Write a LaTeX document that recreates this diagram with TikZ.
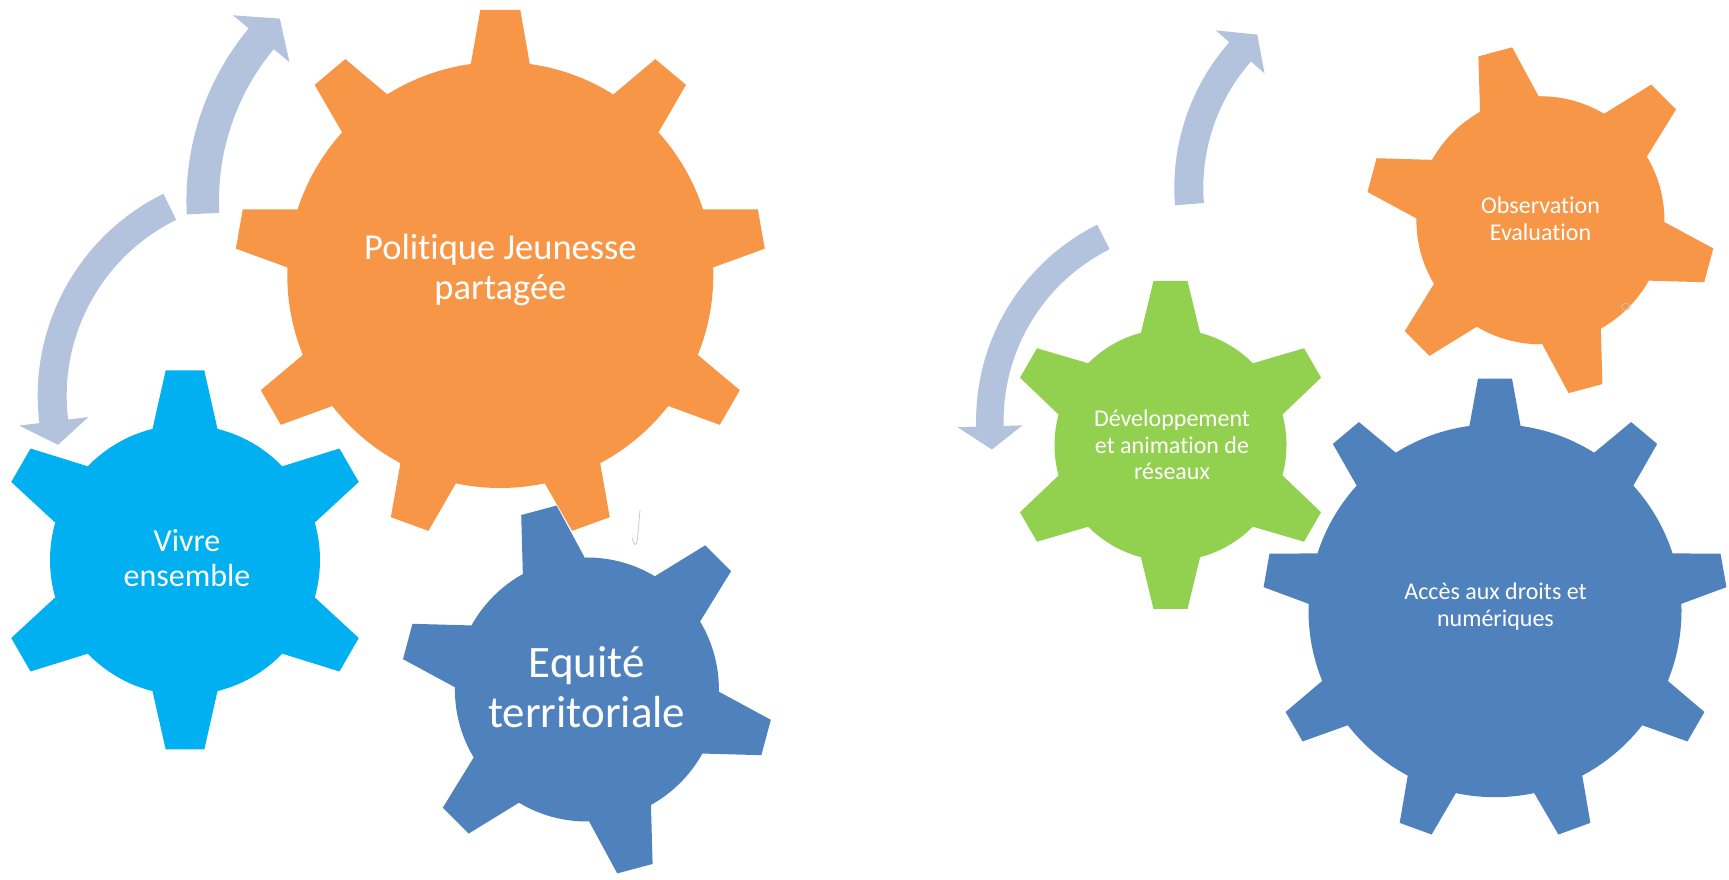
\documentclass[tikz,border=0pt]{standalone}
\usepackage{fontspec}
\setmainfont{Carlito}[Ligatures=NoCommon]

\definecolor{gearorange}{HTML}{F79646}
\definecolor{gearcyan}{HTML}{00B0F0}
\definecolor{gearblue}{HTML}{4F81BD}
\definecolor{geargreen}{HTML}{92D050}
\definecolor{arrowblue}{HTML}{B3C3DE}
\definecolor{hookgray}{HTML}{C5CCDA}

% centre, body radius, tip radius, base half width, tip half width, tooth angles, colour
\newcommand{\drawgear}[7]{%
  \fill[#7] #1 circle[radius=#2];
  \pgfmathsetmacro{\gearbase}{#2*sqrt(1-(#4/#2)^2)}
  \foreach \a in {#6} {
    \fill[#7, shift={#1}, rotate=\a]
      (0,0) -- (\gearbase,-#4) -- (#3,-#5) -- (#3,#5) -- (\gearbase,#4) -- cycle;
  }
}

\begin{document}
\begin{tikzpicture}[x=1pt, y=1pt,
    geartext/.style={text=white, align=center, anchor=base, inner sep=0pt},
    cyclearrow/.style={fill=arrowblue},
  ]
        \fill[white] (0,0) rectangle (1729,880);
        \useasboundingbox (0,0) rectangle (1729,880);

        % ------------------------------------------------------------------------
        % Left
        \fill[cyclearrow, shift={(456.4,679.2)}]
          (182.9:269.95) arc[start angle=182.9, end angle=140.3, radius=269.95]
          -- (140.3:290.4) -- (134.1:253.7) -- (140.3:217.0) -- (140.3:237.45)
          arc[start angle=140.3, end angle=182.9, radius=237.45] -- cycle;
        \fill[cyclearrow, shift={(262.7,484.3)}]
          (116.2:225) arc[start angle=116.2, end angle=187.0, radius=225]
          -- (187.0:245.3) -- (193.5:210.5) -- (187.0:175.7) -- (187.0:196)
          arc[start angle=187.0, end angle=116.2, radius=196] -- cycle;

        \drawgear{(500.3,605)}{213}{265}{29.5}{20}{90,130,...,410}{gearorange}
        \drawgear{(185,320)}{135}{189.5}{32.5}{19.3}{90,150,...,390}{gearcyan}
        \drawgear{(586.9,190.5)}{132}{185.5}{32}{18.3}{105,165,...,405}{gearblue}

        \draw[hookgray, line width=0.8]
          (640,370) .. controls (638.5,352) .. (637.5,341)
          .. controls (636.5,333) and (634,334) .. (632.3,341.7);

        % base = last line
        \node[geartext, font=\fontsize{36.5}{40}\selectfont] at (500.4, 580) (pol)
          {Politique Jeunesse\\partagée};
        \node[geartext, font=\fontsize{32}{35}\selectfont] at (187, 293) (vivre)
          {Vivre\\ensemble};
        \node[geartext, font=\fontsize{45}{50}\selectfont] at (586.7, 152.3) (equite)
          {Equité\\territoriale};

        % ------------------------------------------------------------------------
        % Right
        \fill[cyclearrow, shift={(1394.2,692.3)}]
          (184.6:219.9) arc[start angle=184.6, end angle=138.6, radius=219.9]
          -- (138.6:237.9) -- (131.8:205.4) -- (138.6:172.9) -- (138.6:190.9)
          arc[start angle=138.6, end angle=184.6, radius=190.9] -- cycle;
        \fill[cyclearrow, shift={(1195.1,459.4)}]
          (116.55:219) arc[start angle=116.55, end angle=181.6, radius=219]
          -- (181.6:237.65) -- (188.1:205.25) -- (181.6:172.85) -- (181.6:191.5)
          arc[start angle=181.6, end angle=116.55, radius=191.5] -- cycle;

        \drawgear{(1170.5,435)}{116}{164}{29.6}{17}{90,150,...,390}{geargreen}
        \drawgear{(1540.4,659.75)}{124}{174.3}{30.3}{17.5}{105,165,...,405}{gearorange}
        \drawgear{(1495,269.3)}{186.5}{232}{25.6}{17}{90,130,...,410}{gearblue}

        \draw[hookgray, line width=0.6] (1626,573.3) circle[x radius=4.5, y radius=3.5];

        \node[geartext, font=\fontsize{24}{26.5}\selectfont] at (1172, 400.3) (dev)
          {Développement\\et animation de\\réseaux};
        \node[geartext, font=\fontsize{24}{27}\selectfont] at (1540.5, 639.3) (obs)
          {Observation\\Evaluation};
        \node[geartext, font=\fontsize{24}{26.7}\selectfont] at (1495.5, 253.3) (acces)
          {Accès aux droits et\\numériques};
      \end{tikzpicture}
\end{document}
